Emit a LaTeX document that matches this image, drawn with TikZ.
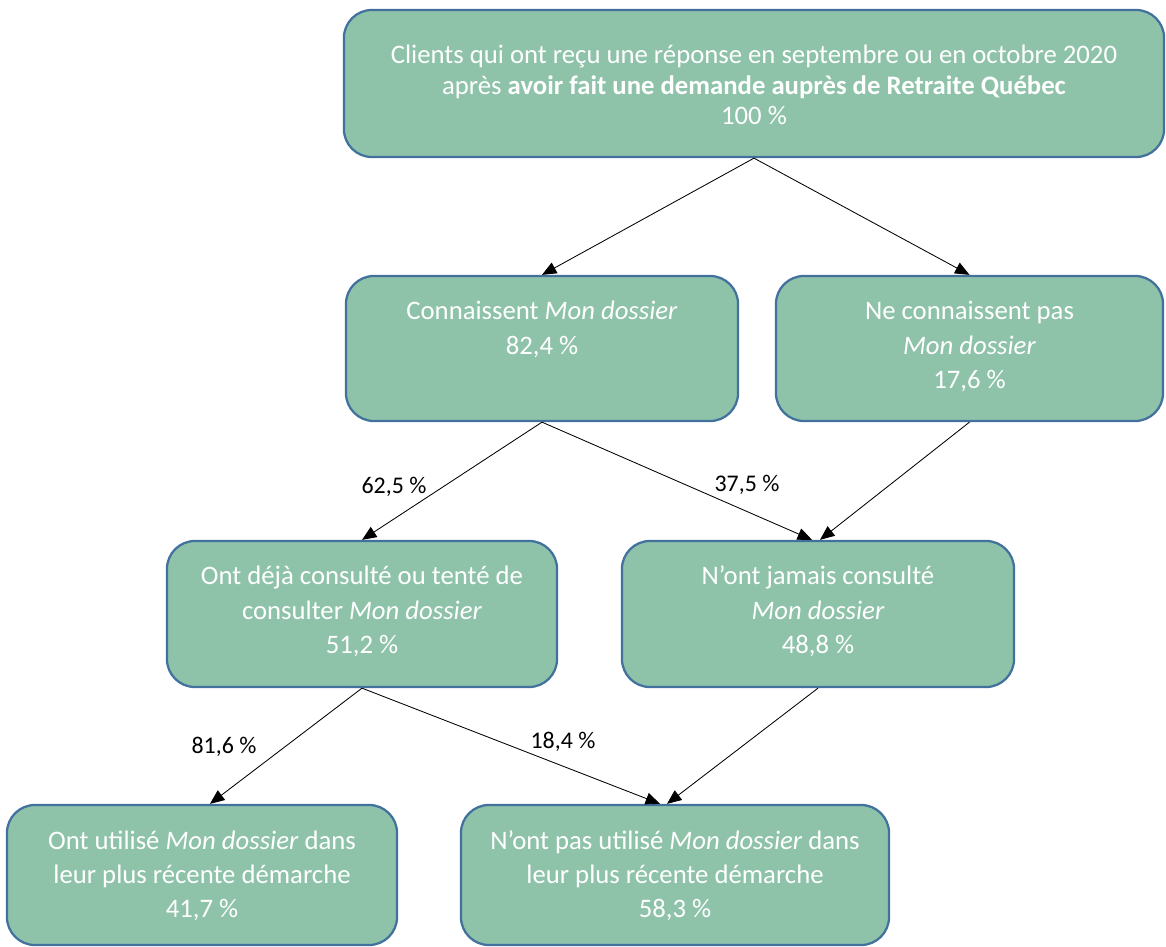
\documentclass[tikz,border=0pt]{standalone}
\usepackage{fontspec}
\setmainfont{Carlito}
\usetikzlibrary{arrows.meta,calc}

\definecolor{vertboite}{RGB}{142,195,170}
\definecolor{bordboite}{RGB}{65,113,156}

\newcommand{\bloc}[4][1.1cm]{\parbox[c][#3][t]{#2}{\centering\rule{0pt}{#1}#4}}

\begin{document}
\begin{tikzpicture}[x=0.025cm,y=-0.025cm,
  boite/.style={draw=bordboite,fill=vertboite,line width=1.6pt,rounded corners=0.7cm,inner sep=0pt,text=white,font=\fontsize{19}{24.2}\selectfont},
  fleche/.style={-{Triangle[length=0.36cm,width=0.3cm]},line width=0.6pt},
  pct/.style={font=\fontsize{17}{18}\selectfont,inner sep=0pt}]

\useasboundingbox (0,0) rectangle (1166,947);

  \node[boite] (tous) at (754,83.5) {\bloc[1.35cm]{20.5cm}{3.675cm}{\setlength{\baselineskip}{0.76cm}Clients qui ont reçu une réponse en septembre ou en octobre 2020\\ après \textbf{avoir fait une demande auprès de Retraite Québec}\\ 100~\%}};

  \node[boite] (connait) at (542,348.5) {\bloc{9.8cm}{3.625cm}{Connaissent \textit{Mon dossier}\\ 82,4~\%}};
  \node[boite] (connaitpas) at (969.5,348.5) {\bloc{9.675cm}{3.625cm}{Ne connaissent pas\\ \textit{Mon dossier}\\ 17,6~\%}};

  \node[boite] (consulte) at (362,614) {\bloc{9.75cm}{3.65cm}{Ont déjà consulté ou tenté de\\ consulter \textit{Mon dossier}\\ 51,2~\%}};
  \node[boite] (jamais) at (818,614) {\bloc{9.8cm}{3.65cm}{N’ont jamais consulté\\ \textit{Mon dossier}\\ 48,8~\%}};

  \node[boite] (utilise) at (202,875) {\bloc{9.75cm}{3.5cm}{Ont utilisé \textit{Mon dossier} dans\\ leur plus récente démarche\\ 41,7~\%}};
  \node[boite] (pasutilise) at (675,875) {\bloc{10.7cm}{3.5cm}{N’ont pas utilisé \textit{Mon dossier} dans\\ leur plus récente démarche\\ 58,3~\%}};

  % fleches
  \draw[fleche] (tous.south) -- (connait.north);
  \draw[fleche] (tous.south) -- (connaitpas.north);
  \draw[fleche] (connait.south) -- (consulte.north);
  \draw[fleche] (connait.south) -- ($(jamais.north)+(-6,0)$);
  \draw[fleche] (connaitpas.south) -- ($(jamais.north)+(2,0)$);
  \draw[fleche] (consulte.south) -- ($(utilise.north)+(8,0)$);
  \draw[fleche] (consulte.south) -- ($(pasutilise.north)+(-15,0)$);
  \draw[fleche] (jamais.south) -- ($(pasutilise.north)+(-8,0)$);

  \node[pct] (p625) at (394,487) {62,5~\%};
  \node[pct] (p375) at (747,485) {37,5~\%};
  \node[pct] (p816) at (224,747) {81,6~\%};
  \node[pct] (p184) at (563,742) {18,4~\%};
\end{tikzpicture}
\end{document}
